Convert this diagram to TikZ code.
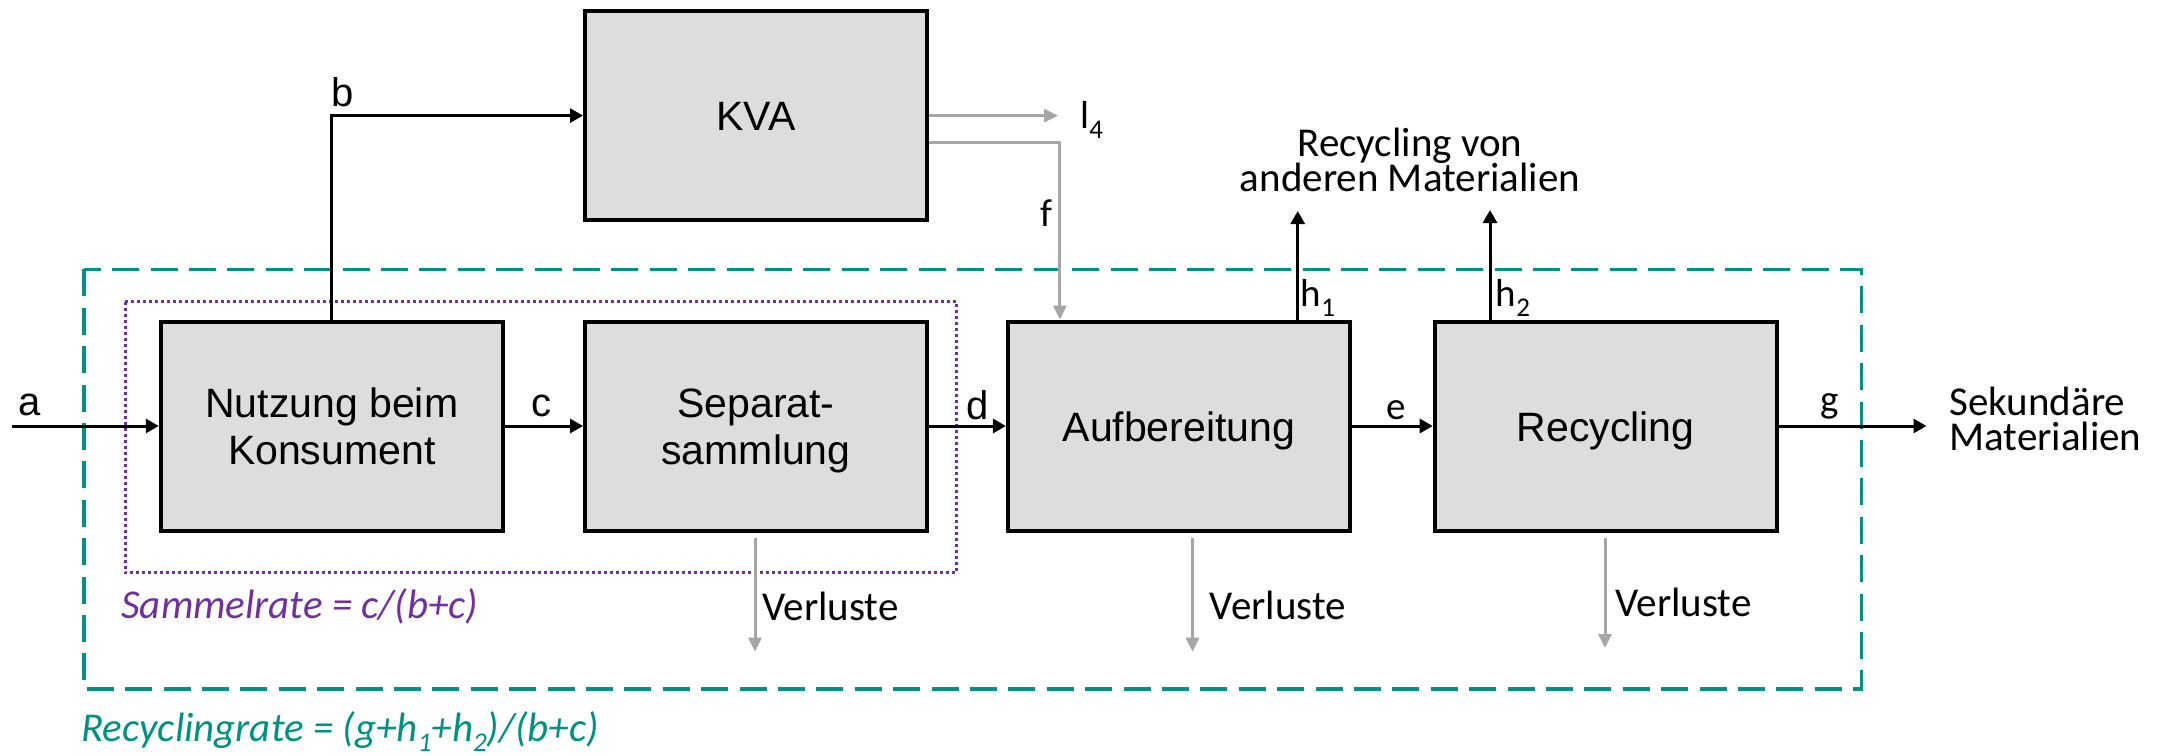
\documentclass[tikz,border=0pt]{standalone}
\usepackage{fontspec}
\setmainfont{Carlito}
\newfontfamily\arialf{Liberation Sans}
\usetikzlibrary{arrows.meta}
\definecolor{boxfill}{RGB}{221,221,221}
\definecolor{flowgray}{RGB}{166,166,166}
\definecolor{tealc}{RGB}{0,146,128}
\definecolor{purplec}{RGB}{112,48,160}
\newcommand\subx[1]{\raisebox{-5pt}{\fontsize{13.5}{13.5}\selectfont #1}}
\lineskiplimit=-100pt
\begin{document}
\begin{tikzpicture}[x=0.5pt,y=-0.5pt,
  proc/.style={draw=black, line width=2pt, fill=boxfill, minimum width=171pt, minimum height=104.5pt,
    inner sep=0pt, align=center, font=\arialf\fontsize{20.5}{23.5}\selectfont, text height=15pt, text depth=0pt},
  twoline/.style={text height=38.5pt},
  blk/.style={draw=black, line width=1.5pt, -{Triangle[length=6.5pt,width=7pt]}},
  gry/.style={draw=flowgray, line width=1.5pt, -{Triangle[length=7pt,width=6.5pt]}},
  lblA/.style={font=\arialf\fontsize{20}{24}\selectfont, inner sep=0pt},
  lblC/.style={font=\fontsize{19.5}{23}\selectfont, inner sep=0pt},
  txt/.style={font=\fontsize{20.5}{17.5}\selectfont, inner sep=0pt},
  rate/.style={font=\fontsize{20.5}{17.5}\selectfont\itshape, inner sep=0pt, anchor=base west},
  frameteal/.style={draw=tealc, line width=1.75pt, dash pattern=on 13.5pt off 5.7pt},
  framepurple/.style={draw=purplec, line width=1.5pt, dash pattern=on 1.5pt off 1.5pt},
]
\useasboundingbox (0,0) rectangle (2163,755);

% frames
\draw[frameteal] (84,269.3) rectangle (1861.5,689);
\draw[framepurple] (125,301.7) rectangle (956.5,572.7);

% process boxes
\node[proc] (kva) at (756,115.6) {KVA};
\node[proc,twoline] (nutz) at (331.75,426) {Nutzung beim\\Konsument};
\node[proc,twoline] (sep) at (756,426) {Separat-\\sammlung};
\node[proc] (aufb) at (1178.9,426) {Aufbereitung};
\node[proc] (rec) at (1605.7,426) {Recycling};

% free ends
\coordinate (ain) at (12,426);
\coordinate (gout) at (1926.5,426);
\coordinate (l4end) at (1058,115.6);
\coordinate (h1end) at (1297.7,211);
\coordinate (h2end) at (1490,210);
\coordinate (v1end) at (755,651.7);
\coordinate (v2end) at (1192.5,651.7);
\coordinate (v3end) at (1605,648);

% flows
\draw[blk] (ain) -- (nutz.west);
\draw[blk] (nutz.north) |- (kva.west);
\draw[blk] (nutz.east) -- (sep.west);
\draw[blk] (sep.east) -- (aufb.west);
\draw[blk] (aufb.east) -- (rec.west);
\draw[blk] (rec.east) -- (gout);
\draw[gry] (kva.east) -- (l4end);
\draw[gry] ([yshift=-13.3pt]kva.east) -| ([xshift=27pt]aufb.north west);
\draw[blk] (aufb.north -| h1end) -- (h1end);
\draw[blk] (rec.north -| h2end) -- (h2end);
\draw[gry, shorten <=2.5pt] (sep.south -| v1end) -- (v1end);
\draw[gry, shorten <=2.5pt] (aufb.south -| v2end) -- (v2end);
\draw[gry, shorten <=2.5pt] (rec.south -| v3end) -- (v3end);

% flow labels
\node[lblA, anchor=base west] (la) at (18.5,415) {a};
\node[lblA, anchor=base west] (lb) at (331.5,106.7) {b};
\node[lblA, anchor=base] (lc) at (541.6,416.7) {c};
\node[lblA, anchor=base] (ld) at (978,419.5) {d};
\node[lblC, anchor=base] (le) at (1396,419) {e};
\node[lblC, anchor=base] (lg) at (1830,412.5) {g};
\node[lblC, anchor=base] (lf) at (1046.5,226.7) {f};
\node[lblC, anchor=base west] (ll4) at (1080,128.3) {l\subx{4}};
\node[lblC, anchor=base west] (lh1) at (1300.5,306.7) {h\subx{1}};
\node[lblC, anchor=base west] (lh2) at (1495.5,306.7) {h\subx{2}};

% texts (base anchor of a multi-line node = last line)
\node[txt, align=center, anchor=base] (rva) at (1410,191.7) {Recycling von\\anderen Materialien};
\node[txt, align=left, anchor=base west] (sek) at (1949,450) {Sekundäre\\Materialien};
\node[txt, anchor=base west] (v1) at (762,620) {Verluste};
\node[txt, anchor=base west] (v2) at (1209.5,619) {Verluste};
\node[txt, anchor=base west] (v3) at (1615,616) {Verluste};
\node[rate, text=purplec] (sr) at (121,618.3) {Sammelrate = c/(b+c)};
\node[rate, text=tealc] (rr) at (81,741.7) {Recyclingrate = (g+h\subx{1}+h\subx{2})/(b+c)};
\end{tikzpicture}
\end{document}
